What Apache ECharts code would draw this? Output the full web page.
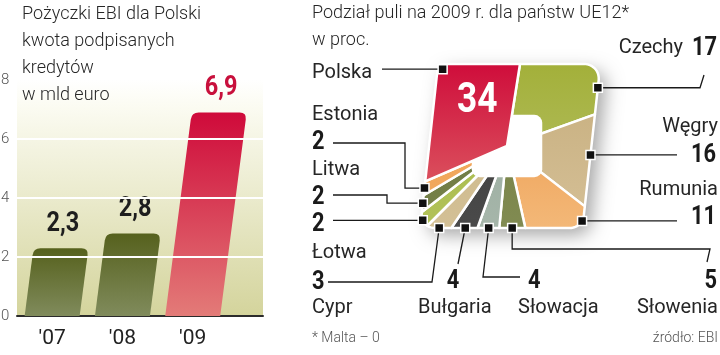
<!DOCTYPE html>
<html>
<head>
<meta charset="utf-8">
<script src="https://cdn.jsdelivr.net/npm/echarts@6/dist/echarts.min.js"></script>
<style>
  html, body { margin: 0; padding: 0; background: #fff; }
  #main { width: 720px; height: 355px; }
</style>
</head>
<body>
<div id="main"></div>
<script>
  // lewy wykres: pozyczki EBI dla Polski, mld euro
  var years = ["'07", "'08", "'09"];
  var loans = [2.3, 2.8, 6.9];
  var yTicks = [0, 2, 4, 6, 8];

  // prawy wykres: podzial puli na 2009 r. (UE12), w proc.
  var countries = ['Czechy', 'Węgry', 'Rumunia', 'Słowenia', 'Słowacja', 'Bułgaria', 'Cypr', 'Łotwa', 'Litwa', 'Estonia', 'Polska'];
  var shares = [17, 16, 11, 5, 4, 4, 3, 2, 2, 2, 34];

  var NAME_FONT = "20px Roboto, 'Noto Sans', sans-serif";
  var TITLE_FONT = "300 18px Roboto, 'Noto Sans', sans-serif";
  var NUM_FAMILY = "Roboto, 'Noto Sans', sans-serif";
  var NARROW = 0.84;   // cyfry w oryginale sa w kroju waskim
  var TEXT = '#262626';

  var barColors = [['#56611d', '#808b5c'], ['#56611d', '#808b5c'], ['#cf0a3a', '#e37b78']];
  var sliceColors = [
    ['#a3b03a', '#b8c26c'], ['#c6ad7c', '#d5c097'], ['#ec9444', '#f3b878'], ['#717c3e', '#818b52'],
    ['#94a79a', '#a6b6aa'], ['#3c3c3c', '#4a4a4a'], ['#c9b482', '#d3c096'], ['#a2b640', '#b2c25a'],
    ['#6a763c', '#76814a'], ['#ee9c4c', '#f2ac64'], ['#cf0d3b', '#df6a6a']
  ];

  // ksztalt "tortu": zaokraglony, lekko pochylony kwadrat (jednostki osi pomocniczej)
  var SH = {cx: 0.04, a: 0.99, b: 1, k: 0.11, r: [0.2, 0.15, 0.18, 0.05]};
  var PIE_START = 9;

  var total = shares.reduce(function (s, v) { return s + v; }, 0);
  var startAng = [], endAng = [];
  shares.reduce(function (acc, v, i) {
    startAng[i] = acc;
    endAng[i] = acc + v / total * 360;
    return endAng[i];
  }, PIE_START);

  function inside(x, y) {
    var u = x - SH.cx - SH.k * y, v = y;
    var q = u >= 0 ? (v >= 0 ? 0 : 1) : (v >= 0 ? 3 : 2);
    var r = SH.r[q];
    var qx = Math.abs(u) - (SH.a - r), qy = Math.abs(v) - (SH.b - r);
    if (qx > r || qy > r) return false;
    if (qx > 0 && qy > 0) return qx * qx + qy * qy <= r * r;
    return true;
  }
  function edge(deg, f) {
    var t = deg * Math.PI / 180, dx = Math.sin(t), dy = Math.cos(t);
    var lo = 0, hi = 2;
    for (var i = 0; i < 30; i++) {
      var m = (lo + hi) / 2;
      if (inside(m * dx, m * dy)) lo = m; else hi = m;
    }
    lo *= (f || 1);
    return [lo * dx, lo * dy];
  }

  // odnosniki: pozycja punktu w wycinku, podpisy, przebieg linii
  var callouts = {
    'Czechy':   {frac: 0.79, name: [683, 48, 'right'], val: [717, 48, 'right'], path: function (m) { return [[700, m[1]], [704, 75]]; }},
    'Węgry':    {frac: 0.45, name: [718, 127, 'right'], val: [716, 155, 'right'], path: function (m) { return [[677, m[1]]]; }},
    'Rumunia':  {frac: 0.18, name: [718, 190, 'right'], val: [716, 217, 'right'], path: function (m) { return [[677, m[1]]]; }},
    'Słowenia': {frac: 0.5, name: [718, 308, 'right'], val: [717, 281, 'right'], path: function (m) { return [[m[0], 249], [710, 249], [707, 262]]; }},
    'Słowacja': {frac: 0.5, name: [518, 308, 'left'], val: [528, 281, 'left'], path: function (m) { return [[483, 277], [520, 277]]; }},
    'Bułgaria': {frac: 0.5, name: [418, 308, 'left'], val: [453, 281, 'center'], path: function (m) { return [[458, 264]]; }},
    'Cypr':     {frac: 0.5, name: [312, 308, 'left'], val: [312, 282, 'left'], path: function (m) { return [[432, 282], [328, 282]]; }},
    'Łotwa':    {frac: 0.5, name: [312, 253, 'left'], val: [312, 224, 'left'], path: function (m) { return [[333, m[1]]]; }},
    'Litwa':    {frac: 0.5, name: [312, 170, 'left'], val: [312, 197, 'left'], path: function (m) { return [[387, m[1]], [387, 195], [333, 195]]; }},
    'Estonia':  {frac: 0.5, name: [312, 115, 'left'], val: [312, 142, 'left'], path: function (m) { return [[405, m[1]], [405, 143], [333, 143]]; }},
    'Polska':   {frac: 0.6, name: [312, 73, 'left'], val: null, shrink: 0.95, path: function (m) { return [[382, m[1]]]; }}
  };

  function vGrad(c, y0, y1) {
    return {type: 'linear', x: 0, y: y0, x2: 0, y2: y1, global: true,
      colorStops: [{offset: 0, color: c[0]}, {offset: 1, color: c[1]}]};
  }

  // pogrubiona liczba, zwezona w poziomie
  function numText(s, x, y, size, color, align, z2) {
    return {
      type: 'text', x: x, y: y, scaleX: NARROW, z2: z2 || 20,
      style: {
        text: s, x: 0, y: 0, textAlign: align, textVerticalAlign: 'middle',
        font: 'bold ' + size + 'px ' + NUM_FAMILY, fill: color
      }
    };
  }

  function renderBar(params, api) {
    var i = params.dataIndex;
    var xv = api.value(0), v = api.value(1);
    var b = api.coord([xv, 0]), t = api.coord([xv, v]);
    var h = b[1] - t[1], w = 55, sk = 0.13 * h, r = 7;
    var xl = b[0] - w / 2, xr = b[0] + w / 2, y0 = b[1], y1 = t[1];
    var f = (h - r) / h;
    var d = 'M' + xl + ' ' + y0 + 'L' + xr + ' ' + y0 +
      'L' + (xr + sk * f) + ' ' + (y1 + r) +
      'Q' + (xr + sk) + ' ' + y1 + ' ' + (xr + sk - r) + ' ' + y1 +
      'L' + (xl + sk + r) + ' ' + y1 +
      'Q' + (xl + sk) + ' ' + y1 + ' ' + (xl + sk * f) + ' ' + (y1 + r) + 'Z';
    var last = i === loans.length - 1;
    return {
      type: 'group',
      children: [{
        type: 'path',
        shape: {pathData: d},
        style: {fill: vGrad(barColors[i], y1, y0)}
      }, numText(String(v).replace('.', ','), b[0] + sk + 2, y1 - 24, 28, last ? '#c8103c' : '#1e1e1e', 'center')]
    };
  }

  function renderSlice(params, api) {
    var i = params.dataIndex;
    var name = countries[i];
    var co = callouts[name];
    var a0 = startAng[i], a1 = endAng[i];
    var pts = [api.coord([0, 0])];
    for (var a = a0; a < a1; a += 1) pts.push(api.coord(edge(a)));
    pts.push(api.coord(edge(a1)));
    var top = api.coord([0, 1])[1], bot = api.coord([0, -1])[1];
    var isPl = name === 'Polska';
    var children = [{
      type: 'polygon', z2: isPl ? 10 : 2,
      shape: {points: pts},
      style: {fill: vGrad(sliceColors[i], top, bot), stroke: '#fff', lineWidth: 2.5, lineJoin: 'round'}
    }];

    if (i === 0) {
      var outline = [];
      for (var s = 0; s < 360; s += 2) outline.push(api.coord(edge(s)));
      children.push({
        type: 'polygon', z2: 0, shape: {points: outline},
        style: {fill: '#fff', shadowBlur: 18, shadowColor: 'rgba(0,0,0,0.35)', shadowOffsetX: 7, shadowOffsetY: 7}
      });
      var h0 = api.coord([-0.43, 0.38]), h1 = api.coord([0.43, -0.38]);
      children.push({
        type: 'rect', z2: 5,
        shape: {x: h0[0], y: h0[1], width: h1[0] - h0[0], height: h1[1] - h0[1], r: 8},
        style: {fill: '#fff'}
      });
    }

    if (isPl) {
      var pa = (a0 + 0.65 * (a1 - a0)) * Math.PI / 180;
      var pc = api.coord([0.65 * Math.sin(pa), 0.65 * Math.cos(pa)]);
      children.push(numText(String(shares[i]), pc[0], pc[1], 42, '#fff', 'center', 12));
    }

    var m = api.coord(edge(a0 + co.frac * (a1 - a0), co.shrink || 1));
    var line = [m].concat(co.path(m));
    children.push({
      type: 'polyline', z2: 19, shape: {points: line},
      style: {stroke: '#1a1a1a', lineWidth: 1.3, fill: null}
    });
    children.push({
      type: 'rect', z2: 20,
      shape: {x: m[0] - 4.5, y: m[1] - 4.5, width: 9, height: 9},
      style: {fill: '#111', stroke: '#fff', lineWidth: 1.5}
    });
    children.push({
      type: 'text', z2: 20,
      style: {text: name, x: co.name[0], y: co.name[1], textAlign: co.name[2], textVerticalAlign: 'middle', font: NAME_FONT, fill: TEXT}
    });
    if (co.val) {
      children.push(numText(String(shares[i]), co.val[0], co.val[1], 26, '#1a1a1a', co.val[2]));
    }
    return {type: 'group', children: children};
  }

  function txt(s, x, y, font, color, align) {
    return {
      type: 'text', x: x, y: y,
      style: {text: s, font: font, fill: color, textAlign: align || 'left', textVerticalAlign: 'middle'}
    };
  }

  var chart = echarts.init(document.getElementById('main'));
  chart.setOption({
    backgroundColor: '#fff',
    animation: false,
    grid: [{
      left: 17, top: 80, width: 246, height: 236, show: true, borderWidth: 0, outerBoundsMode: 'none',
      backgroundColor: {type: 'linear', x: 0, y: 0, x2: 0, y2: 1,
        colorStops: [{offset: 0, color: '#ffffff'}, {offset: 0.12, color: '#fbfbf1'}, {offset: 1, color: '#d4d49c'}]}
    }, {
      left: 425, top: 64, width: 164, height: 164, outerBoundsMode: 'none'
    }],
    xAxis: [{
      type: 'value', gridIndex: 0, min: 0, max: 3.5, interval: 0.5,
      splitLine: {show: false}, axisTick: {show: false},
      axisLine: {show: true, lineStyle: {color: '#2b2b2b', width: 2}},
      axisLabel: {
        margin: 12, fontSize: 21, color: '#222', fontFamily: 'Roboto',
        formatter: function (v) {
          var k = v - 0.5;
          return (Math.abs(k - Math.round(k)) < 1e-6 && years[Math.round(k)]) ? years[Math.round(k)] : '';
        }
      }
    }, {
      type: 'value', gridIndex: 1, min: -1, max: 1, show: false
    }],
    yAxis: [{
      type: 'value', gridIndex: 0, min: yTicks[0], max: yTicks[yTicks.length - 1], interval: yTicks[1] - yTicks[0],
      splitLine: {show: false}, axisLine: {show: false}, axisTick: {show: false},
      axisLabel: {align: 'left', margin: 16, fontSize: 15, fontWeight: 300, color: '#555', fontFamily: 'Roboto'}
    }, {
      type: 'value', gridIndex: 1, min: -1, max: 1, show: false
    }],
    series: [{
      type: 'custom', xAxisIndex: 0, yAxisIndex: 0,
      data: loans.map(function (v, i) { return [i + 0.5, v]; }),
      renderItem: renderBar,
      markLine: {
        silent: true, symbol: 'none', label: {show: false},
        lineStyle: {color: '#fff', width: 2, type: 'solid'},
        data: yTicks.slice(1, -1).map(function (t) { return {yAxis: t}; })
      }
    }, {
      type: 'custom', xAxisIndex: 1, yAxisIndex: 1,
      data: shares.map(function (v, i) { return [0, 0, v]; }),
      renderItem: renderSlice
    }],
    graphic: [
      txt('Pożyczki EBI dla Polski', 22, 14, TITLE_FONT, TEXT),
      txt('kwota podpisanych', 22, 41, TITLE_FONT, TEXT),
      txt('kredytów', 22, 68, TITLE_FONT, TEXT),
      txt('w mld euro', 22, 95, TITLE_FONT, TEXT),
      txt('Podział puli na 2009 r. dla państw UE12*', 312, 13, TITLE_FONT, TEXT),
      txt('w proc.', 312, 40, TITLE_FONT, TEXT),
      txt('* Malta – 0', 312, 338, "300 14px Roboto, sans-serif", '#555'),
      txt('źródło: EBI', 718, 338, "300 14px Roboto, sans-serif", '#555', 'right')
    ]
  });
</script>
</body>
</html>
